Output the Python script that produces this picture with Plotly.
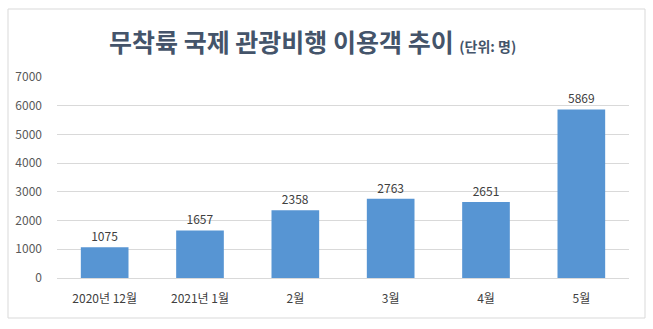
import plotly.graph_objects as go

categories = ["2020년 12월", "2021년 1월", "2월", "3월", "4월", "5월"]
values = [1075, 1657, 2358, 2763, 2651, 5869]
y_ticks = [0, 1000, 2000, 3000, 4000, 5000, 6000, 7000]

FONT = "Noto Sans CJK KR"

fig = go.Figure(go.Bar(
    x=categories, y=values,
    marker=dict(color="#5795d3", line=dict(width=0)),
    width=0.5,
    text=[str(v) for v in values],
    textposition="outside",
    textfont=dict(family=FONT, size=12, color="#404040"),
    cliponaxis=False,
))

fig.update_layout(
    width=653, height=329,
    margin=dict(l=57, r=24, t=77, b=51),
    paper_bgcolor="white", plot_bgcolor="white",
    showlegend=False,
    font=dict(family=FONT, color="#595959", size=12),
    xaxis=dict(showgrid=False, showline=True, linecolor="#d9d9d9", linewidth=1,
               ticks="", tickfont=dict(size=12, color="#404040"), ticklabelstandoff=10),
    yaxis=dict(range=[0, 7000], tickvals=y_ticks, showgrid=True, gridcolor="#d9d9d9",
               gridwidth=1, zeroline=False, showline=False, ticks="",
               tickfont=dict(size=12, color="#595959"), ticklabelstandoff=14),
    annotations=[dict(
        text="<b>무착륙 국제 관광비행 이용객 추이</b> <b><span style='font-size:14px'>(단위: 명)</span></b>",
        xref="paper", yref="paper", x=(312-57)/572, y=1.0, yshift=36, xanchor="center", yanchor="middle",
        showarrow=False, font=dict(family=FONT, size=25, color="#44546a"),
    )],
    shapes=[dict(type="rect", xref="paper", yref="paper",
                 x0=-49/572, x1=(645-57)/572, y0=-(318-278)/201, y1=(278-9)/201,
                 line=dict(color="#d9d9d9", width=1), fillcolor="rgba(0,0,0,0)", layer="below")],
)

fig.write_html("out.html")
